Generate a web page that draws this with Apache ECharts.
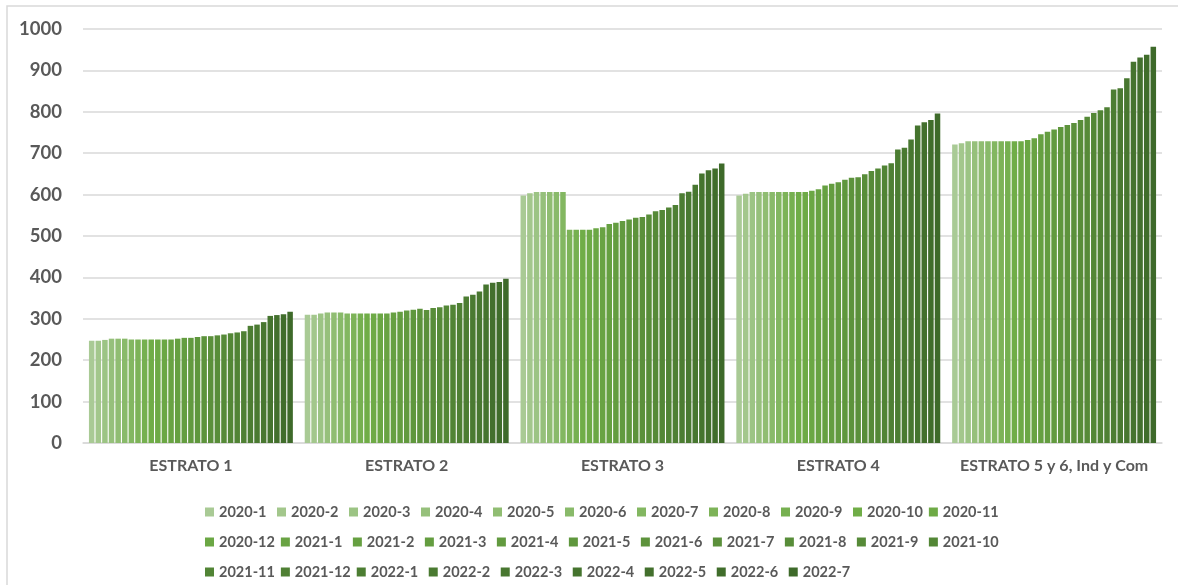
<!DOCTYPE html>
<html>
<head>
<meta charset="utf-8">
<script src="https://cdn.jsdelivr.net/npm/echarts@6/dist/echarts.min.js"></script>
<style>
  html, body { margin: 0; padding: 0; background: #fff; }
  #chart { width: 1178px; height: 585px; }
</style>
</head>
<body>
<div id="chart"></div>
<script>
var categories = ['ESTRATO 1', 'ESTRATO 2', 'ESTRATO 3', 'ESTRATO 4', 'ESTRATO 5 y 6, Ind y Com'];
var periods = ['2020-1','2020-2','2020-3','2020-4','2020-5','2020-6','2020-7','2020-8','2020-9','2020-10','2020-11','2020-12',
    '2021-1','2021-2','2021-3','2021-4','2021-5','2021-6','2021-7','2021-8','2021-9','2021-10','2021-11','2021-12',
    '2022-1','2022-2','2022-3','2022-4','2022-5','2022-6','2022-7'];

// one array per estrato, one value per period
var estrato1 = [247,247,249,252,252,252,250,250,250,250,250,250,250,252,254,254,256,258,258,260,262,265,267,270,283,286,292,307,309,311,317];
var estrato2 = [310,310,313,315,315,315,313,313,313,313,313,313,313,315,317,320,322,324,321,326,328,332,334,338,354,358,366,383,387,389,397];
var estrato3 = [598,603,606,606,606,606,606,515,515,515,515,519,521,529,532,536,540,544,546,552,560,563,569,575,603,607,624,651,659,663,675];
var estrato4 = [598,602,606,606,606,606,606,606,606,606,606,609,613,622,626,630,636,641,642,649,657,663,670,676,709,713,733,767,775,780,796];
var estrato5 = [721,724,729,729,729,729,729,729,729,729,729,732,736,746,752,757,763,768,773,780,788,797,804,811,854,857,881,921,931,938,957];

var yTicks = [0, 1000, 100];

(function(){
    var byEstrato = [estrato1, estrato2, estrato3, estrato4, estrato5];

    // green shades: pale -> bright -> dark
    function hex(c){ return [parseInt(c.substr(1,2),16), parseInt(c.substr(3,2),16), parseInt(c.substr(5,2),16)]; }
    function mix(a, b, t){
        var x = hex(a), y = hex(b), out = '#';
        for (var k = 0; k < 3; k++) {
            var v = Math.round(x[k] + (y[k] - x[k]) * t).toString(16);
            out += v.length < 2 ? '0' + v : v;
        }
        return out;
    }
    var colors = [];
    for (var i = 0; i < periods.length; i++) {
        if (i <= 9) colors.push(mix('#a9ca95', '#70ad47', i / 9));
        else colors.push(mix('#70ad47', '#3e6a2a', (i - 9) / 21));
    }

    var series = periods.map(function(p, i){
        return {
            name: p,
            type: 'bar',
            barGap: '20%',
            barCategoryGap: '5.5%',
            itemStyle: { color: colors[i] },
            data: byEstrato.map(function(arr){ return arr[i]; })
        };
    });

    var myChart = echarts.init(document.getElementById('chart'));
    var option = {
        animation: false,
        textStyle: { fontFamily: 'Lato' },
        graphic: [{
            type: 'rect',
            shape: { x: 7, y: 6, width: 1200, height: 620 },
            style: { fill: 'none', stroke: '#d9d9d9', lineWidth: 1.5 },
            silent: true
        }],
        legend: {
            data: periods,
            left: 200,
            top: 495,
            width: 825,
            itemWidth: 9,
            itemHeight: 9,
            itemGap: 6,
            icon: 'rect',
            textStyle: { fontFamily: 'Lato', fontWeight: 'bold', fontSize: 14.5, color: '#595959', width: 52, lineHeight: 24, height: 24 }
        },
        grid: { left: 83, right: 16, top: 29, bottom: 142 },
        xAxis: {
            type: 'category',
            data: categories,
            axisTick: { show: false },
            axisLine: { lineStyle: { color: '#d9d9d9', width: 1.5 } },
            axisLabel: { interval: 0, color: '#595959', fontWeight: 'bold', fontSize: 16, margin: 15, fontFamily: 'Lato' }
        },
        yAxis: {
            type: 'value',
            min: yTicks[0],
            max: yTicks[1],
            interval: yTicks[2],
            axisLine: { show: false },
            axisTick: { show: false },
            splitLine: { lineStyle: { color: '#d9d9d9', width: 1.5 } },
            axisLabel: {
                color: '#595959', fontWeight: 'bold', fontSize: 18.5, margin: 21, fontFamily: 'Lato',
                formatter: function(v){ return String(v); }
            }
        },
        series: series
    };
    myChart.setOption(option);
})()
</script>
</body>
</html>
